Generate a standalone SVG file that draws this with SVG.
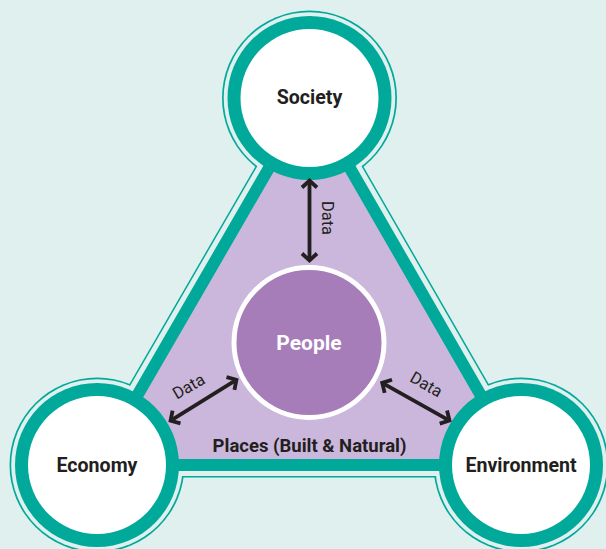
<svg xmlns="http://www.w3.org/2000/svg" width="606" height="549" viewBox="0 0 606 549">
  <defs>
    <style>
      .bg { fill: #dff0ee; }
      .teal { fill: #00a99a; }
      .light { fill: #dff0ee; }
      .white { fill: #ffffff; }
      .label { font-family: Roboto, "Liberation Sans", sans-serif; font-weight: 700; fill: #231f20; text-anchor: middle; }
      .data { font-family: Roboto, "Liberation Sans", sans-serif; font-weight: 400; font-size: 16.5px; fill: #231f20; text-anchor: middle; }
      .arrow { stroke: #231f20; stroke-width: 3.8; fill: none; marker-start: url(#head); marker-end: url(#head); }
    </style>
    <marker id="head" markerUnits="userSpaceOnUse" viewBox="-10 -10 16 20" refX="0" refY="0" markerWidth="16" markerHeight="20" orient="auto-start-reverse">
      <path d="M-4.5,-7.5 L2.5,0 L-4.5,7.5" fill="none" stroke="#231f20" stroke-width="3.8" stroke-linejoin="miter"/>
    </marker>
  </defs>

  <rect class="bg" x="0" y="0" width="606" height="549"/>

  <g id="outline">
    <polygon points="309.5,98 97,465 521,465" fill="#00a99a" stroke="#00a99a" stroke-width="25" stroke-linejoin="round"/>
    <circle class="teal" cx="309.5" cy="98" r="87.5"/>
    <circle class="teal" cx="97" cy="465" r="87.5"/>
    <circle class="teal" cx="521" cy="465" r="87.5"/>
    <polygon points="309.5,98 97,465 521,465" fill="#dff0ee" stroke="#dff0ee" stroke-width="22" stroke-linejoin="round"/>
    <circle class="light" cx="309.5" cy="98" r="85.8"/>
    <circle class="light" cx="97" cy="465" r="85.8"/>
    <circle class="light" cx="521" cy="465" r="85.8"/>
  </g>

  <g id="places">
    <polygon points="309.5,98 97,465 521,465" fill="#cbb7db" stroke="#00a99a" stroke-width="12" stroke-linejoin="round"/>
    <text class="label" x="309.5" y="452" font-size="18.5">Places (Built &amp; Natural)</text>
  </g>

  <g id="society">
    <circle class="teal" cx="309.5" cy="98" r="82"/>
    <circle class="white" cx="309.5" cy="98" r="69"/>
    <text class="label" x="309.5" y="104" font-size="19.6">Society</text>
  </g>

  <g id="economy">
    <circle class="teal" cx="97" cy="465" r="82"/>
    <circle class="white" cx="97" cy="465" r="69"/>
    <text class="label" x="97" y="471.5" font-size="19.6">Economy</text>
  </g>

  <g id="environment">
    <circle class="teal" cx="521" cy="465" r="82"/>
    <circle class="white" cx="521" cy="465" r="69"/>
    <text class="label" x="521" y="471.5" font-size="19.6">Environment</text>
  </g>

  <g id="people">
    <circle cx="309" cy="342.5" r="75" fill="#a67db8" stroke="#ffffff" stroke-width="5"/>
    <text class="label" x="309" y="349.5" font-size="21" style="fill:#ffffff">People</text>
  </g>

  <g id="connectors">
    <line class="arrow" x1="309.5" y1="183" x2="309.5" y2="258"/>
    <line class="arrow" x1="172.7" y1="419.4" x2="234.3" y2="381.1"/>
    <line class="arrow" x1="384.4" y1="384.1" x2="447.3" y2="419.3"/>
    <text class="data" transform="translate(321.5,218) rotate(90)">Data</text>
    <text class="data" transform="translate(191.5,391.3) rotate(-30)">Data</text>
    <text class="data" transform="translate(423.5,389.3) rotate(30)">Data</text>
  </g>
</svg>
